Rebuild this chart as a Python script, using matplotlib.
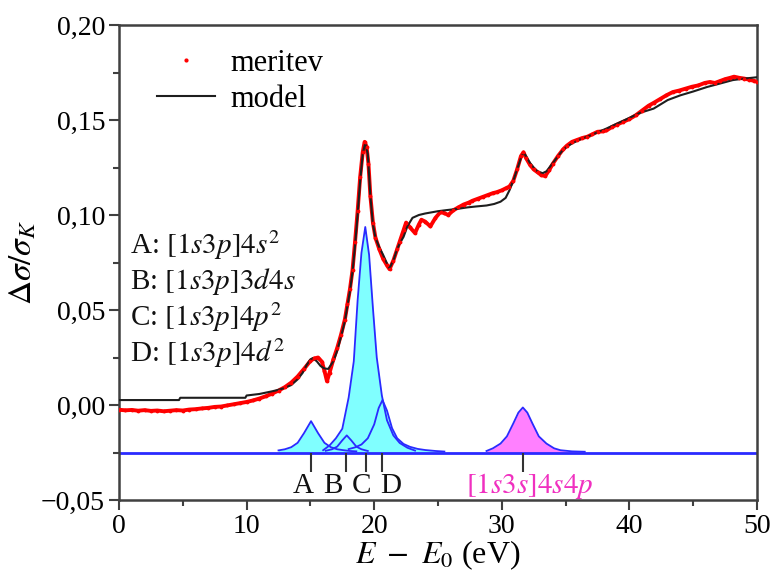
import matplotlib
matplotlib.use("Agg")
import matplotlib.pyplot as plt
from matplotlib.ticker import MultipleLocator, FuncFormatter
from matplotlib.lines import Line2D
import numpy as np

plt.rcParams['font.family'] = ['Liberation Serif', 'DejaVu Serif']
plt.rcParams['mathtext.fontset'] = 'stix'

# ---------------- data ----------------
meas_e = [0.0, 0.5, 1.0, 1.5, 2.0, 2.5, 3.0, 3.5, 4.0, 4.5, 5.0, 5.5, 6.0, 6.5, 7.0, 7.5,
          8.0, 8.5, 9.0, 9.5, 10.0, 10.5, 11.0, 11.5, 12.0, 12.5, 13.0, 13.5, 14.0, 14.5,
          15.0, 15.3, 15.6, 15.9, 16.1, 16.3, 16.5, 16.8, 17.1, 17.4, 17.7, 17.9, 18.1,
          18.3, 18.5, 18.7, 18.9, 19.1, 19.25, 19.4, 19.55, 19.7, 19.9, 20.1, 20.4, 20.7,
          21.0, 21.2, 21.5, 21.8, 22.0, 22.3, 22.5, 22.8, 23.2, 23.5, 23.7, 24.0, 24.4,
          24.8, 25.2, 25.5, 25.8, 26.2, 26.6, 27.0, 27.4, 27.7, 28.1, 28.5, 28.9, 29.3,
          29.6, 30.0, 30.3, 30.6, 30.9, 31.2, 31.5, 31.7, 31.9, 32.2, 32.5, 32.8, 33.1,
          33.4, 33.7, 34.0, 34.4, 34.8, 35.1, 35.5, 35.9, 36.3, 36.7, 37.1, 37.5, 37.9,
          38.2, 38.6, 39.0, 39.5, 40.0, 40.5, 41.0, 41.5, 41.9, 42.4, 42.9, 43.4, 43.9,
          44.4, 44.9, 45.4, 45.9, 46.3, 46.7, 47.1, 47.5, 47.9, 48.2, 48.6, 49.0, 49.4,
          49.8, 50.0]
meas_y = [-0.0025, -0.0028, -0.0026, -0.0030, -0.0027, -0.0031, -0.0029, -0.0033, -0.0030,
          -0.0027, -0.0029, -0.0024, -0.0022, -0.0018, -0.0015, -0.0010, -0.0008, -0.0002,
          0.0004, 0.0010, 0.0016, 0.0024, 0.0034, 0.0046, 0.0060, 0.0076, 0.0094, 0.0118,
          0.0150, 0.0190, 0.0232, 0.0245, 0.0250, 0.0228, 0.0180, 0.0125, 0.0170, 0.0240,
          0.0300, 0.0370, 0.0450, 0.0530, 0.0610, 0.0710, 0.0860, 0.1020, 0.1200, 0.1330,
          0.1385, 0.1360, 0.1270, 0.1100, 0.0960, 0.0880, 0.0820, 0.0770, 0.0735, 0.0715,
          0.0760, 0.0820, 0.0860, 0.0920, 0.0960, 0.0935, 0.0905, 0.0950, 0.0975, 0.0965,
          0.0940, 0.0985, 0.1016, 0.1010, 0.1000, 0.1025, 0.1040, 0.1055, 0.1065, 0.1075,
          0.1085, 0.1095, 0.1105, 0.1115, 0.1120, 0.1130, 0.1140, 0.1150, 0.1180, 0.1240,
          0.1310, 0.1330, 0.1300, 0.1265, 0.1240, 0.1225, 0.1210, 0.1205, 0.1235, 0.1270,
          0.1310, 0.1345, 0.1365, 0.1385, 0.1395, 0.1405, 0.1412, 0.1425, 0.1438, 0.1440,
          0.1445, 0.1462, 0.1475, 0.1490, 0.1505, 0.1525, 0.1550, 0.1575, 0.1590, 0.1610,
          0.1630, 0.1647, 0.1655, 0.1665, 0.1675, 0.1682, 0.1695, 0.1700, 0.1695, 0.1705,
          0.1715, 0.1722, 0.1728, 0.1722, 0.1718, 0.1712, 0.1705, 0.1702]

model_e = [0.0, 4.7, 4.8, 9.9, 10.0, 11.0, 11.5, 12.0, 12.5, 13.0, 13.5, 14.0, 14.4, 14.7,
           15.0, 15.2, 15.5, 15.8, 16.1, 16.4, 16.8, 17.1, 17.4, 17.7, 17.9, 18.1, 18.3,
           18.5, 18.7, 18.9, 19.1, 19.3, 19.5, 19.7, 19.9, 20.1, 20.4, 20.7, 21.0, 21.2,
           21.5, 21.8, 22.0, 22.3, 22.6, 23.0, 23.5, 24.0, 24.5, 25.0, 25.7, 26.5, 27.3,
           28.0, 28.8, 29.4, 29.9, 30.3, 30.6, 30.9, 31.2, 31.5, 31.7, 31.9, 32.2, 32.5,
           32.8, 33.2, 33.5, 33.9, 34.3, 34.7, 35.1, 35.6, 36.2, 36.8, 37.5, 38.2, 39.0,
           39.8, 40.8, 41.9, 43.0, 44.0, 45.0, 46.1, 47.0, 48.1, 49.0, 50.0]
model_y = [0.0026, 0.0026, 0.0038, 0.0038, 0.0050, 0.0058, 0.0065, 0.0072, 0.0080, 0.0090,
           0.0105, 0.0135, 0.0170, 0.0210, 0.0240, 0.0247, 0.0230, 0.0205, 0.0192, 0.0190,
           0.0230, 0.0285, 0.0360, 0.0440, 0.0520, 0.0600, 0.0700, 0.0840, 0.1000, 0.1180,
           0.1320, 0.1380, 0.1320, 0.1100, 0.0950, 0.0880, 0.0830, 0.0790, 0.0745, 0.0720,
           0.0760, 0.0820, 0.0850, 0.0885, 0.0940, 0.0985, 0.1000, 0.1008, 0.1014, 0.1020,
           0.1026, 0.1032, 0.1040, 0.1045, 0.1050, 0.1058, 0.1070, 0.1090, 0.1130, 0.1180,
           0.1240, 0.1300, 0.1330, 0.1310, 0.1275, 0.1250, 0.1230, 0.1220, 0.1230, 0.1265,
           0.1300, 0.1335, 0.1360, 0.1380, 0.1400, 0.1415, 0.1435, 0.1455, 0.1480, 0.1505,
           0.1537, 0.1560, 0.1605, 0.1630, 0.1650, 0.1674, 0.1690, 0.1710, 0.1718, 0.1725]

comp_base = -0.025

compA_e = [12.5, 13.0, 13.5, 14.0, 14.5, 15.05, 15.6, 16.1, 16.6, 17.1, 17.6, 18.1, 18.6]
compA_h = [0.0011, 0.0017, 0.0028, 0.0051, 0.0102, 0.0165, 0.0102, 0.0051, 0.0028, 0.0017,
           0.0012, 0.0008, 0.0006]
compB_e = [16.2, 16.7, 17.1, 17.5, 17.85, 18.2, 18.6, 19.0, 19.5]
compB_h = [0.0009, 0.0017, 0.0031, 0.0064, 0.0090, 0.0064, 0.0031, 0.0017, 0.0008]
compC_e = [16.0, 16.5, 17.0, 17.5, 18.0, 18.4, 18.7, 19.0, 19.3, 19.6, 19.9, 20.2, 20.6,
           21.0, 21.5, 22.0, 22.6, 23.2]
compC_h = [0.0012, 0.0037, 0.0075, 0.0125, 0.0290, 0.0480, 0.0800, 0.1050, 0.1187, 0.1040,
           0.0760, 0.0500, 0.0300, 0.0170, 0.0090, 0.0050, 0.0025, 0.0010]
compD_e = [18.0, 18.5, 19.0, 19.5, 20.0, 20.35, 20.65, 21.0, 21.4, 21.8, 22.3, 22.8, 23.4,
           24.0, 24.8, 25.5]
compD_h = [0.0018, 0.0027, 0.0042, 0.0075, 0.0148, 0.0234, 0.0276, 0.0221, 0.0128, 0.0075,
           0.0045, 0.0030, 0.0019, 0.0013, 0.0008, 0.0005]
compM_e = [28.8, 29.3, 29.9, 30.4, 30.9, 31.3, 31.65, 32.0, 32.4, 32.9, 33.5, 34.1, 34.6,
           35.5, 36.5]
compM_h = [0.0008, 0.0022, 0.0047, 0.0085, 0.0153, 0.0210, 0.0237, 0.0210, 0.0153, 0.0085,
           0.0047, 0.0022, 0.0012, 0.0006, 0.0004]

marker_pos = [15.05, 17.8, 19.35, 20.6, 31.65]
marker_lab = ['A', 'B', 'C', 'D']
config_labels = [r'A: $[1s3p]4s^2$', r'B: $[1s3p]3d4s$',
                 r'C: $[1s3p]4p^2$', r'D: $[1s3p]4d^2$']
magenta_label = r'$[1s3s]4s4p$'

# ---------------- figure ----------------
fig = plt.figure(figsize=(7.78, 5.74), dpi=100)
ax = fig.add_axes([119/778, 1-500/574, (757-119)/778, (500-25)/574])

cyan = '#80ffff'
blue = '#2a2aff'
for e, h in [(compA_e, compA_h), (compB_e, compB_h), (compC_e, compC_h), (compD_e, compD_h)]:
    y = np.array(h) + comp_base
    ax.fill_between(e, comp_base, y, color=cyan, lw=0, zorder=1)
yM = np.array(compM_h) + comp_base
ax.fill_between(compM_e, comp_base, yM, color='#ff80ff', lw=0, zorder=1)
for e, h in [(compA_e, compA_h), (compB_e, compB_h), (compC_e, compC_h), (compD_e, compD_h),
             (compM_e, compM_h)]:
    y = np.array(h) + comp_base
    ax.plot(e, y, color=blue, lw=1.3, zorder=2)
ax.axhline(comp_base, color=blue, lw=2.0, zorder=2)

# markers below baseline
ax.vlines(marker_pos, comp_base - 0.0105, comp_base, color='#333333', lw=1.5, zorder=2)
lab_x = [14.4, 16.8, 19.0, 21.3]
for x, t in zip(lab_x, marker_lab):
    ax.text(x, -0.0425, t, ha='center', va='center', fontsize=21, color='#111111')
ax.text(32.2, -0.0425, magenta_label, ha='center', va='center', fontsize=21,
        color='#f030c0')

# data
ax.plot(meas_e, meas_y, color='#ff0000', lw=2.8, zorder=3)
ax.plot(model_e, model_y, color='#1e1e1e', lw=1.5, zorder=4)
ax.plot(meas_e, meas_y, ls='none', marker='.', ms=3.5, color='#ff0000', zorder=5)

# config labels
for i, t in enumerate(config_labels):
    ax.text(0.85, 0.0842 - i * 0.0190, t, ha='left', va='center', fontsize=21,
            color='#111111')

# legend
handles = [Line2D([], [], ls='none', marker='.', ms=4, color='#ff0000'),
           Line2D([], [], color='#1e1e1e', lw=1.5)]
ax.legend(handles, ['meritev', 'model'], loc='upper left', bbox_to_anchor=(0.04, 0.975),
          frameon=False, fontsize=22, handlelength=1.9, handletextpad=0.5,
          labelspacing=0.22, borderaxespad=0.0)

ax.set_xlim(0, 50)
ax.set_ylim(-0.05, 0.20)
ax.xaxis.set_major_locator(MultipleLocator(10))
ax.xaxis.set_minor_locator(MultipleLocator(5))
ax.yaxis.set_major_locator(MultipleLocator(0.05))
ax.yaxis.set_minor_locator(MultipleLocator(0.025))


def yfmt(v, pos):
    s = f"{abs(v):.2f}".replace('.', ',')
    return ('\u2212' + s) if v < -1e-9 else s


ax.yaxis.set_major_formatter(FuncFormatter(yfmt))
ax.tick_params(axis='both', which='major', direction='out', length=7, width=1.5,
               labelsize=20, color='#404040', pad=3)
ax.tick_params(axis='both', which='minor', direction='out', length=4, width=1.5,
               color='#404040')
for sp in ax.spines.values():
    sp.set_color('#404040')
    sp.set_linewidth(1.8)

ax.set_xlabel(r'$E\ -\ E_0$ (eV)', fontsize=23, labelpad=0)
ax.set_ylabel(r'$\Delta\sigma/\sigma_K$', fontsize=24, labelpad=2)

fig.savefig('out.png', dpi=100)
